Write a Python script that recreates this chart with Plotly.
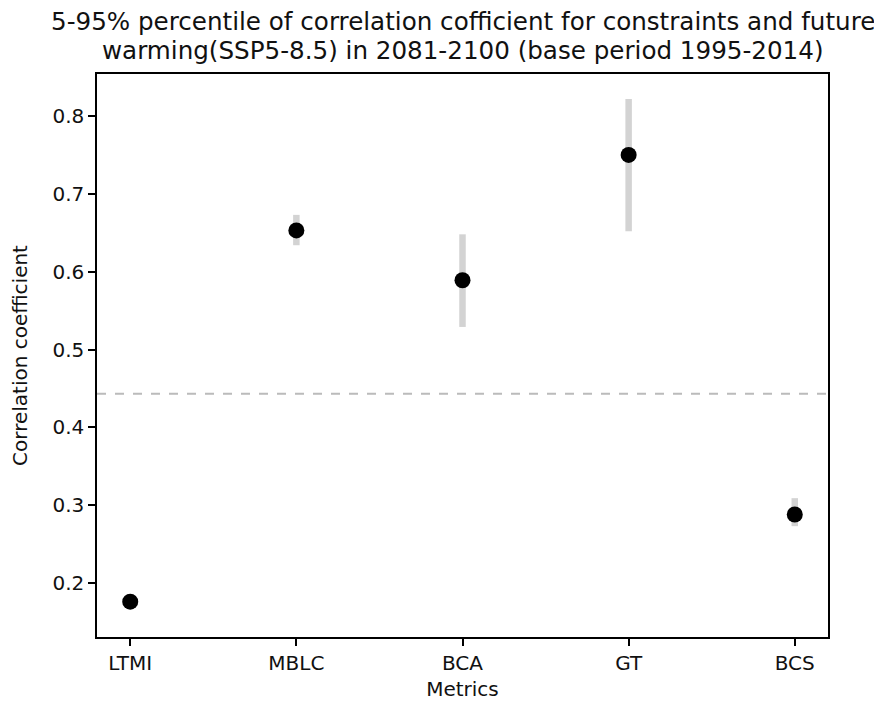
import plotly.graph_objects as go

metrics = ["LTMI", "MBLC", "BCA", "GT", "BCS"]
median = [0.176, 0.653, 0.589, 0.750, 0.288]
p95 = [0.180, 0.673, 0.648, 0.822, 0.309]
p5 = [0.172, 0.634, 0.529, 0.652, 0.273]
threshold = 0.443

title_lines = [
    "5-95% percentile of correlation cofficient for constraints and future",
    "warming(SSP5-8.5) in 2081-2100 (base period 1995-2014)",
]

xpos = list(range(len(metrics)))
err_plus = [h - m for h, m in zip(p95, median)]
err_minus = [m - l for m, l in zip(median, p5)]

font = "DejaVu Sans"
fig = go.Figure()
fig.add_trace(go.Scatter(
    x=xpos, y=median, mode="markers",
    marker=dict(color="black", size=16),
    error_y=dict(type="data", symmetric=False, array=err_plus, arrayminus=err_minus,
                 color="lightgray", thickness=6.5, width=0),
    showlegend=False,
))
fig.add_shape(type="line", xref="paper", x0=0, x1=1, yref="y", y0=threshold, y1=threshold,
              line=dict(color="#bbbbbb", width=2, dash="dash"), layer="below")

annotations = []
for i, (line, shift) in enumerate(zip(title_lines, [53, 24])):
    annotations.append(dict(
        text=line, xref="paper", yref="paper", x=0.5, y=1.0, yshift=shift,
        xanchor="center", yanchor="middle", showarrow=False,
        font=dict(family=font, size=24.6, color="#111111"),
    ))

fig.update_layout(
    width=874, height=701,
    margin=dict(l=97, r=46, t=74, b=64),
    plot_bgcolor="white", paper_bgcolor="white",
    font=dict(family=font, size=20, color="#111111"),
    annotations=annotations,
)
fig.update_xaxes(
    range=[-0.2, 4.2], tickvals=xpos, ticktext=metrics, automargin=False,
    showgrid=False, zeroline=False, showline=True, mirror=True, linecolor="black", linewidth=1.5,
    ticks="outside", ticklen=7, tickcolor="black", tickwidth=1.5,
    title=dict(text="Metrics", font=dict(size=20), standoff=10),
)
fig.update_yaxes(
    range=[0.1306, 0.854], tickvals=[0.2, 0.3, 0.4, 0.5, 0.6, 0.7, 0.8],
    tickformat=".1f", automargin=False,
    showgrid=False, zeroline=False, showline=True, mirror=True, linecolor="black", linewidth=1.5,
    ticks="outside", ticklen=7, tickcolor="black", tickwidth=1.5,
    title=dict(text="Correlation coefficient", font=dict(size=20), standoff=19),
)
fig.write_html("out.html")
